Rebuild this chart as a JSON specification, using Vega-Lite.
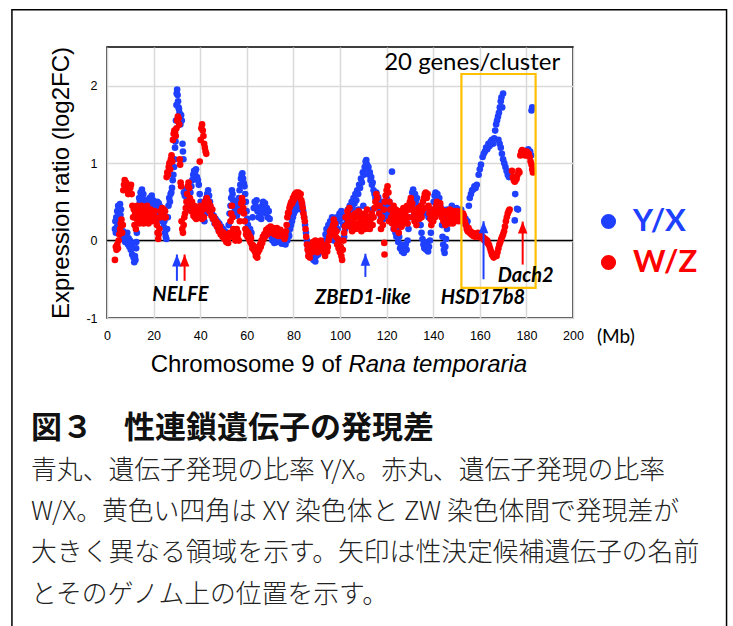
{
"$schema": "https://vega.github.io/schema/vega-lite/v6.json",
"autosize": "none",
"width": 466,
"height": 271,
"padding": {"left": 107, "top": 47, "right": 160, "bottom": 308},
"background": "white",
"config": {"view": {"stroke": "black", "strokeWidth": 1.5}},
"data": {"values": [{}]},
"resolve": {"axis": {"x": "independent", "y": "independent"}},
"datasets": {
"pts": [
{"s":"Y/X","x":3.4,"y":0.15},{"s":"Y/X","x":3.6,"y":0.25},{"s":"Y/X","x":3.8,"y":0.1},{"s":"Y/X","x":4.0,"y":0.3},{"s":"Y/X","x":4.2,"y":0.17},{"s":"Y/X","x":4.4,"y":0.38},{"s":"Y/X","x":4.6,"y":0.2},{"s":"Y/X","x":4.8,"y":0.45},{"s":"Y/X","x":5.0,"y":0.35},{"s":"Y/X","x":5.2,"y":0.42},{"s":"Y/X","x":5.4,"y":0.28},{"s":"Y/X","x":5.6,"y":0.47},{"s":"Y/X","x":5.8,"y":0.33},{"s":"Y/X","x":6.0,"y":0.4},
{"s":"Y/X","x":6.3,"y":0.1},{"s":"Y/X","x":6.6,"y":0.05},{"s":"Y/X","x":6.9,"y":0.12},{"s":"Y/X","x":7.2,"y":0.02},{"s":"Y/X","x":7.5,"y":0.08},{"s":"Y/X","x":7.8,"y":-0.02},{"s":"Y/X","x":8.1,"y":0.05},{"s":"Y/X","x":8.4,"y":0.0},{"s":"Y/X","x":8.7,"y":0.1},{"s":"Y/X","x":9.0,"y":-0.05},{"s":"Y/X","x":9.3,"y":0.03},{"s":"Y/X","x":9.6,"y":-0.08},{"s":"Y/X","x":9.9,"y":0.0},{"s":"Y/X","x":10.2,"y":-0.12},{"s":"Y/X","x":10.5,"y":-0.05},{"s":"Y/X","x":10.8,"y":-0.18},{"s":"Y/X","x":11.1,"y":-0.1},{"s":"Y/X","x":11.4,"y":-0.22},{"s":"Y/X","x":11.7,"y":-0.28},{"s":"Y/X","x":12.0,"y":-0.2},{"s":"Y/X","x":12.2,"y":-0.25},{"s":"Y/X","x":12.5,"y":-0.1},{"s":"Y/X","x":12.6,"y":-0.02},{"s":"Y/X","x":12.8,"y":0.1},
{"s":"Y/X","x":13.2,"y":0.3},{"s":"Y/X","x":13.5,"y":0.45},{"s":"Y/X","x":13.8,"y":0.55},{"s":"Y/X","x":14.1,"y":0.5},{"s":"Y/X","x":14.4,"y":0.62},{"s":"Y/X","x":14.7,"y":0.58},{"s":"Y/X","x":15.0,"y":0.66},{"s":"Y/X","x":15.3,"y":0.55},{"s":"Y/X","x":15.6,"y":0.6},{"s":"Y/X","x":15.9,"y":0.5},{"s":"Y/X","x":16.2,"y":0.45},
{"s":"Y/X","x":16.5,"y":0.38},{"s":"Y/X","x":16.8,"y":0.5},{"s":"Y/X","x":17.1,"y":0.42},{"s":"Y/X","x":17.4,"y":0.52},{"s":"Y/X","x":17.7,"y":0.38},{"s":"Y/X","x":18.0,"y":0.47},{"s":"Y/X","x":18.3,"y":0.55},{"s":"Y/X","x":18.6,"y":0.4},{"s":"Y/X","x":18.9,"y":0.5},{"s":"Y/X","x":19.2,"y":0.58},{"s":"Y/X","x":19.5,"y":0.45},{"s":"Y/X","x":19.8,"y":0.52},{"s":"Y/X","x":20.1,"y":0.4},{"s":"Y/X","x":20.4,"y":0.48},{"s":"Y/X","x":20.7,"y":0.36},{"s":"Y/X","x":21.0,"y":0.45},{"s":"Y/X","x":21.3,"y":0.38},{"s":"Y/X","x":21.6,"y":0.5},{"s":"Y/X","x":21.9,"y":0.42},{"s":"Y/X","x":22.2,"y":0.48},{"s":"Y/X","x":22.5,"y":0.36},{"s":"Y/X","x":22.8,"y":0.44},{"s":"Y/X","x":23.1,"y":0.3},{"s":"Y/X","x":23.4,"y":0.4},{"s":"Y/X","x":23.7,"y":0.25},{"s":"Y/X","x":24.0,"y":0.32},{"s":"Y/X","x":24.3,"y":0.18},{"s":"Y/X","x":24.6,"y":0.25},{"s":"Y/X","x":24.9,"y":0.1},{"s":"Y/X","x":25.2,"y":0.05},{"s":"Y/X","x":25.5,"y":0.02},{"s":"Y/X","x":25.8,"y":0.15},{"s":"Y/X","x":26.1,"y":0.3},
{"s":"Y/X","x":26.4,"y":0.45},{"s":"Y/X","x":26.7,"y":0.55},{"s":"Y/X","x":27.0,"y":0.5},{"s":"Y/X","x":27.3,"y":0.6},{"s":"Y/X","x":27.6,"y":0.62},{"s":"Y/X","x":27.9,"y":0.68},{"s":"Y/X","x":28.2,"y":0.78},{"s":"Y/X","x":28.5,"y":0.85},{"s":"Y/X","x":28.8,"y":0.95},{"s":"Y/X","x":29.0,"y":1.05},{"s":"Y/X","x":29.2,"y":1.2},{"s":"Y/X","x":29.4,"y":1.28},
{"s":"Y/X","x":29.6,"y":1.55},{"s":"Y/X","x":29.8,"y":1.75},{"s":"Y/X","x":29.9,"y":1.9},{"s":"Y/X","x":30.1,"y":1.95},{"s":"Y/X","x":30.3,"y":1.88},{"s":"Y/X","x":30.5,"y":1.8},{"s":"Y/X","x":30.7,"y":1.72},{"s":"Y/X","x":30.9,"y":1.7},{"s":"Y/X","x":31.1,"y":1.65},{"s":"Y/X","x":31.3,"y":1.58},{"s":"Y/X","x":31.5,"y":1.5},
{"s":"Y/X","x":31.8,"y":1.62},{"s":"Y/X","x":32.1,"y":1.55},{"s":"Y/X","x":32.4,"y":1.25},{"s":"Y/X","x":32.6,"y":1.15},{"s":"Y/X","x":32.8,"y":1.05},
{"s":"Y/X","x":33.0,"y":0.62},{"s":"Y/X","x":33.4,"y":0.58},{"s":"Y/X","x":33.8,"y":0.66},{"s":"Y/X","x":34.2,"y":0.55},
{"s":"Y/X","x":34.6,"y":0.45},{"s":"Y/X","x":35.0,"y":0.4},{"s":"Y/X","x":35.4,"y":0.5},{"s":"Y/X","x":35.8,"y":0.62},{"s":"Y/X","x":36.2,"y":0.7},{"s":"Y/X","x":36.6,"y":0.78},{"s":"Y/X","x":37.0,"y":0.85},{"s":"Y/X","x":37.4,"y":0.9},{"s":"Y/X","x":37.8,"y":0.88},{"s":"Y/X","x":38.2,"y":0.92},{"s":"Y/X","x":38.6,"y":0.82},{"s":"Y/X","x":39.0,"y":0.78},{"s":"Y/X","x":39.4,"y":0.72},{"s":"Y/X","x":39.8,"y":0.6},
{"s":"Y/X","x":40.2,"y":0.5},{"s":"Y/X","x":40.6,"y":0.42},{"s":"Y/X","x":41.0,"y":0.3},{"s":"Y/X","x":41.4,"y":0.38},{"s":"Y/X","x":41.8,"y":0.25},{"s":"Y/X","x":42.2,"y":0.35},{"s":"Y/X","x":42.6,"y":0.55},{"s":"Y/X","x":43.0,"y":0.6},{"s":"Y/X","x":43.4,"y":0.65},{"s":"Y/X","x":43.8,"y":0.58},{"s":"Y/X","x":44.2,"y":0.5},{"s":"Y/X","x":44.6,"y":0.42},
{"s":"Y/X","x":45.0,"y":0.35},{"s":"Y/X","x":45.4,"y":0.28},{"s":"Y/X","x":45.8,"y":0.32},{"s":"Y/X","x":46.2,"y":0.22},{"s":"Y/X","x":46.6,"y":0.28},{"s":"Y/X","x":47.0,"y":0.2},{"s":"Y/X","x":47.4,"y":0.25},{"s":"Y/X","x":47.8,"y":0.15},{"s":"Y/X","x":48.2,"y":0.22},{"s":"Y/X","x":48.6,"y":0.12},{"s":"Y/X","x":49.0,"y":0.18},{"s":"Y/X","x":49.4,"y":0.1},{"s":"Y/X","x":49.8,"y":0.15},{"s":"Y/X","x":50.2,"y":0.08},{"s":"Y/X","x":50.6,"y":0.12},{"s":"Y/X","x":51.0,"y":0.05},{"s":"Y/X","x":51.4,"y":0.1},{"s":"Y/X","x":51.8,"y":0.02},
{"s":"Y/X","x":52.2,"y":0.2},{"s":"Y/X","x":52.6,"y":0.35},{"s":"Y/X","x":53.0,"y":0.45},{"s":"Y/X","x":53.3,"y":0.55},{"s":"Y/X","x":53.6,"y":0.65},{"s":"Y/X","x":53.9,"y":0.6},{"s":"Y/X","x":54.2,"y":0.52},{"s":"Y/X","x":54.5,"y":0.45},{"s":"Y/X","x":54.8,"y":0.38},{"s":"Y/X","x":55.1,"y":0.5},{"s":"Y/X","x":55.4,"y":0.4},{"s":"Y/X","x":55.7,"y":0.32},
{"s":"Y/X","x":56.0,"y":0.35},{"s":"Y/X","x":56.3,"y":0.45},{"s":"Y/X","x":56.6,"y":0.55},{"s":"Y/X","x":56.9,"y":0.65},{"s":"Y/X","x":57.2,"y":0.72},{"s":"Y/X","x":57.5,"y":0.8},{"s":"Y/X","x":57.8,"y":0.85},{"s":"Y/X","x":58.1,"y":0.87},{"s":"Y/X","x":58.4,"y":0.8},{"s":"Y/X","x":58.7,"y":0.74},{"s":"Y/X","x":59.0,"y":0.7},{"s":"Y/X","x":59.3,"y":0.6},{"s":"Y/X","x":59.6,"y":0.5},
{"s":"Y/X","x":59.9,"y":0.38},{"s":"Y/X","x":60.2,"y":0.28},{"s":"Y/X","x":60.5,"y":0.2},{"s":"Y/X","x":60.8,"y":0.12},{"s":"Y/X","x":61.1,"y":0.08},{"s":"Y/X","x":61.4,"y":0.15},{"s":"Y/X","x":61.7,"y":0.05},{"s":"Y/X","x":62.0,"y":0.1},
{"s":"Y/X","x":62.5,"y":0.3},{"s":"Y/X","x":63.0,"y":0.42},{"s":"Y/X","x":63.4,"y":0.5},{"s":"Y/X","x":63.8,"y":0.45},{"s":"Y/X","x":64.2,"y":0.52},{"s":"Y/X","x":64.6,"y":0.38},{"s":"Y/X","x":65.0,"y":0.3},{"s":"Y/X","x":65.4,"y":0.42},{"s":"Y/X","x":65.8,"y":0.35},{"s":"Y/X","x":66.2,"y":0.28},{"s":"Y/X","x":66.6,"y":0.45},{"s":"Y/X","x":67.0,"y":0.5},{"s":"Y/X","x":67.4,"y":0.4},{"s":"Y/X","x":67.8,"y":0.48},{"s":"Y/X","x":68.2,"y":0.35},{"s":"Y/X","x":68.6,"y":0.42},{"s":"Y/X","x":69.0,"y":0.3},{"s":"Y/X","x":69.4,"y":0.38},{"s":"Y/X","x":69.8,"y":0.28},
{"s":"Y/X","x":70.2,"y":0.12},{"s":"Y/X","x":70.6,"y":0.05},{"s":"Y/X","x":71.0,"y":0.0},{"s":"Y/X","x":71.4,"y":0.06},{"s":"Y/X","x":71.8,"y":-0.03},{"s":"Y/X","x":72.2,"y":0.04},{"s":"Y/X","x":72.6,"y":0.08},{"s":"Y/X","x":73.0,"y":-0.02},{"s":"Y/X","x":73.4,"y":0.03},{"s":"Y/X","x":73.8,"y":0.1},{"s":"Y/X","x":74.2,"y":0.0},{"s":"Y/X","x":74.6,"y":0.05},{"s":"Y/X","x":75.0,"y":-0.04},{"s":"Y/X","x":75.4,"y":0.02},{"s":"Y/X","x":75.8,"y":0.08},{"s":"Y/X","x":76.2,"y":0.0},{"s":"Y/X","x":76.6,"y":-0.05},{"s":"Y/X","x":77.0,"y":0.05},{"s":"Y/X","x":77.4,"y":0.0},{"s":"Y/X","x":77.8,"y":0.1},{"s":"Y/X","x":78.2,"y":0.06},
{"s":"Y/X","x":78.6,"y":0.15},{"s":"Y/X","x":79.0,"y":0.2},{"s":"Y/X","x":79.4,"y":0.25},{"s":"Y/X","x":79.8,"y":0.3},{"s":"Y/X","x":80.2,"y":0.35},{"s":"Y/X","x":80.6,"y":0.38},{"s":"Y/X","x":81.0,"y":0.42},{"s":"Y/X","x":81.4,"y":0.4},{"s":"Y/X","x":81.8,"y":0.45},{"s":"Y/X","x":82.2,"y":0.5},{"s":"Y/X","x":82.6,"y":0.45},{"s":"Y/X","x":83.0,"y":0.48},{"s":"Y/X","x":83.4,"y":0.4},{"s":"Y/X","x":83.8,"y":0.45},{"s":"Y/X","x":84.2,"y":0.38},{"s":"Y/X","x":84.6,"y":0.3},
{"s":"Y/X","x":85.0,"y":0.2},{"s":"Y/X","x":85.4,"y":0.1},{"s":"Y/X","x":85.8,"y":0.0},{"s":"Y/X","x":86.2,"y":-0.08},{"s":"Y/X","x":86.6,"y":-0.15},{"s":"Y/X","x":87.0,"y":-0.2},{"s":"Y/X","x":87.4,"y":-0.1},{"s":"Y/X","x":87.8,"y":-0.22},{"s":"Y/X","x":88.2,"y":-0.15},{"s":"Y/X","x":88.6,"y":-0.25},{"s":"Y/X","x":89.0,"y":-0.18},{"s":"Y/X","x":89.4,"y":-0.27},{"s":"Y/X","x":89.8,"y":-0.2},{"s":"Y/X","x":90.2,"y":-0.12},{"s":"Y/X","x":90.6,"y":-0.18},{"s":"Y/X","x":91.0,"y":-0.08},{"s":"Y/X","x":91.4,"y":-0.15},{"s":"Y/X","x":91.8,"y":-0.05},{"s":"Y/X","x":92.2,"y":-0.12},{"s":"Y/X","x":92.6,"y":-0.02},{"s":"Y/X","x":93.0,"y":-0.1},{"s":"Y/X","x":93.4,"y":0.0},
{"s":"Y/X","x":93.8,"y":0.08},{"s":"Y/X","x":94.2,"y":0.15},{"s":"Y/X","x":94.6,"y":0.05},{"s":"Y/X","x":95.0,"y":0.2},{"s":"Y/X","x":95.4,"y":0.1},{"s":"Y/X","x":95.8,"y":0.25},{"s":"Y/X","x":96.2,"y":0.12},{"s":"Y/X","x":96.6,"y":0.3},{"s":"Y/X","x":97.0,"y":0.18},{"s":"Y/X","x":97.4,"y":0.0},{"s":"Y/X","x":97.8,"y":0.1},{"s":"Y/X","x":98.2,"y":0.2},{"s":"Y/X","x":98.6,"y":0.3},{"s":"Y/X","x":99.0,"y":0.15},{"s":"Y/X","x":99.4,"y":0.25},{"s":"Y/X","x":99.8,"y":0.35},{"s":"Y/X","x":100.2,"y":0.28},{"s":"Y/X","x":100.6,"y":0.38},{"s":"Y/X","x":101.0,"y":0.3},{"s":"Y/X","x":101.4,"y":0.2},{"s":"Y/X","x":101.8,"y":0.05},{"s":"Y/X","x":102.2,"y":0.15},{"s":"Y/X","x":102.6,"y":0.32},{"s":"Y/X","x":103.0,"y":0.25},{"s":"Y/X","x":103.4,"y":0.4},{"s":"Y/X","x":103.8,"y":0.3},{"s":"Y/X","x":104.2,"y":0.45},{"s":"Y/X","x":104.6,"y":0.35},
{"s":"Y/X","x":105.0,"y":0.5},{"s":"Y/X","x":105.4,"y":0.42},{"s":"Y/X","x":105.8,"y":0.55},{"s":"Y/X","x":106.2,"y":0.48},{"s":"Y/X","x":106.6,"y":0.6},{"s":"Y/X","x":107.0,"y":0.52},{"s":"Y/X","x":107.4,"y":0.65},{"s":"Y/X","x":107.8,"y":0.6},{"s":"Y/X","x":108.2,"y":0.72},{"s":"Y/X","x":108.6,"y":0.68},{"s":"Y/X","x":109.0,"y":0.8},{"s":"Y/X","x":109.4,"y":0.75},{"s":"Y/X","x":109.8,"y":0.88},{"s":"Y/X","x":110.2,"y":0.85},{"s":"Y/X","x":110.6,"y":0.95},{"s":"Y/X","x":111.0,"y":1.02},{"s":"Y/X","x":111.3,"y":1.04},{"s":"Y/X","x":111.6,"y":0.98},{"s":"Y/X","x":111.9,"y":0.92},{"s":"Y/X","x":112.2,"y":0.95},{"s":"Y/X","x":112.5,"y":0.85},{"s":"Y/X","x":112.8,"y":0.88},{"s":"Y/X","x":113.1,"y":0.78},{"s":"Y/X","x":113.4,"y":0.82},{"s":"Y/X","x":113.7,"y":0.72},{"s":"Y/X","x":114.0,"y":0.75},{"s":"Y/X","x":114.4,"y":0.65},{"s":"Y/X","x":114.8,"y":0.6},{"s":"Y/X","x":115.2,"y":0.55},{"s":"Y/X","x":115.6,"y":0.62},{"s":"Y/X","x":116.0,"y":0.5},{"s":"Y/X","x":116.4,"y":0.56},{"s":"Y/X","x":116.8,"y":0.45},
{"s":"Y/X","x":117.2,"y":0.38},{"s":"Y/X","x":117.6,"y":0.3},{"s":"Y/X","x":118.0,"y":0.42},{"s":"Y/X","x":118.4,"y":0.35},{"s":"Y/X","x":118.8,"y":0.28},{"s":"Y/X","x":119.2,"y":0.4},{"s":"Y/X","x":119.6,"y":0.48},{"s":"Y/X","x":120.0,"y":0.35},{"s":"Y/X","x":120.4,"y":0.3},{"s":"Y/X","x":120.8,"y":0.45},{"s":"Y/X","x":121.2,"y":0.5},{"s":"Y/X","x":121.6,"y":0.42},{"s":"Y/X","x":122.0,"y":0.35},{"s":"Y/X","x":122.3,"y":0.89},
{"s":"Y/X","x":122.6,"y":0.25},{"s":"Y/X","x":123.0,"y":0.15},{"s":"Y/X","x":123.4,"y":0.22},{"s":"Y/X","x":123.8,"y":0.1},{"s":"Y/X","x":124.2,"y":0.05},{"s":"Y/X","x":124.6,"y":0.15},{"s":"Y/X","x":125.0,"y":-0.02},{"s":"Y/X","x":125.4,"y":0.05},{"s":"Y/X","x":125.8,"y":-0.1},{"s":"Y/X","x":126.2,"y":-0.05},{"s":"Y/X","x":126.6,"y":-0.14},{"s":"Y/X","x":127.0,"y":-0.08},{"s":"Y/X","x":127.4,"y":-0.16},{"s":"Y/X","x":127.8,"y":-0.1},{"s":"Y/X","x":128.2,"y":-0.05},{"s":"Y/X","x":128.6,"y":-0.12},{"s":"Y/X","x":129.0,"y":0.0},
{"s":"Y/X","x":129.4,"y":0.15},{"s":"Y/X","x":129.8,"y":0.3},{"s":"Y/X","x":130.2,"y":0.45},{"s":"Y/X","x":130.6,"y":0.55},{"s":"Y/X","x":131.0,"y":0.62},{"s":"Y/X","x":131.4,"y":0.66},{"s":"Y/X","x":131.8,"y":0.58},{"s":"Y/X","x":132.2,"y":0.6},{"s":"Y/X","x":132.6,"y":0.52},{"s":"Y/X","x":133.0,"y":0.55},{"s":"Y/X","x":133.4,"y":0.45},{"s":"Y/X","x":133.8,"y":0.38},{"s":"Y/X","x":134.2,"y":0.3},{"s":"Y/X","x":134.6,"y":0.2},
{"s":"Y/X","x":135.0,"y":0.1},{"s":"Y/X","x":135.4,"y":0.02},{"s":"Y/X","x":135.8,"y":-0.05},{"s":"Y/X","x":136.2,"y":-0.1},{"s":"Y/X","x":136.6,"y":-0.02},{"s":"Y/X","x":137.0,"y":-0.12},{"s":"Y/X","x":137.4,"y":-0.06},{"s":"Y/X","x":137.8,"y":-0.14},{"s":"Y/X","x":138.2,"y":-0.08},{"s":"Y/X","x":138.6,"y":0.0},{"s":"Y/X","x":139.0,"y":0.1},
{"s":"Y/X","x":139.4,"y":0.25},{"s":"Y/X","x":139.8,"y":0.4},{"s":"Y/X","x":140.2,"y":0.5},{"s":"Y/X","x":140.6,"y":0.58},{"s":"Y/X","x":141.0,"y":0.62},{"s":"Y/X","x":141.4,"y":0.55},{"s":"Y/X","x":141.8,"y":0.6},{"s":"Y/X","x":142.2,"y":0.5},{"s":"Y/X","x":142.6,"y":0.55},{"s":"Y/X","x":143.0,"y":0.45},{"s":"Y/X","x":143.4,"y":0.4},
{"s":"Y/X","x":143.8,"y":0.2},{"s":"Y/X","x":144.0,"y":0.05},{"s":"Y/X","x":144.3,"y":-0.05},{"s":"Y/X","x":144.6,"y":-0.12},{"s":"Y/X","x":144.9,"y":-0.16},{"s":"Y/X","x":145.2,"y":-0.08},{"s":"Y/X","x":145.5,"y":0.02},
{"s":"Y/X","x":145.9,"y":0.15},{"s":"Y/X","x":146.3,"y":0.25},{"s":"Y/X","x":146.7,"y":0.32},{"s":"Y/X","x":147.1,"y":0.28},{"s":"Y/X","x":147.5,"y":0.35},{"s":"Y/X","x":147.9,"y":0.3},{"s":"Y/X","x":148.3,"y":0.38},{"s":"Y/X","x":148.7,"y":0.32},{"s":"Y/X","x":149.1,"y":0.4},{"s":"Y/X","x":149.5,"y":0.35},{"s":"Y/X","x":149.9,"y":0.3},{"s":"Y/X","x":150.3,"y":0.38},{"s":"Y/X","x":150.7,"y":0.33},{"s":"Y/X","x":151.1,"y":0.28},{"s":"Y/X","x":151.5,"y":0.36},{"s":"Y/X","x":151.9,"y":0.3},{"s":"Y/X","x":152.3,"y":0.25},{"s":"Y/X","x":152.7,"y":0.35},{"s":"Y/X","x":153.1,"y":0.3},{"s":"Y/X","x":153.5,"y":0.22},{"s":"Y/X","x":153.9,"y":0.28},{"s":"Y/X","x":154.3,"y":0.2},{"s":"Y/X","x":154.7,"y":0.25},
{"s":"Y/X","x":155.3,"y":0.45},{"s":"Y/X","x":155.7,"y":0.55},{"s":"Y/X","x":156.2,"y":0.6},{"s":"Y/X","x":156.7,"y":0.65},{"s":"Y/X","x":157.2,"y":0.66},{"s":"Y/X","x":157.7,"y":0.7},{"s":"Y/X","x":158.2,"y":0.68},{"s":"Y/X","x":158.7,"y":0.72},{"s":"Y/X","x":159.5,"y":0.85},{"s":"Y/X","x":160.0,"y":0.92},{"s":"Y/X","x":160.5,"y":0.98},{"s":"Y/X","x":161.2,"y":1.08},{"s":"Y/X","x":161.7,"y":1.12},{"s":"Y/X","x":162.2,"y":1.15},{"s":"Y/X","x":162.7,"y":1.2},{"s":"Y/X","x":163.2,"y":1.18},{"s":"Y/X","x":163.7,"y":1.25},{"s":"Y/X","x":164.2,"y":1.22},{"s":"Y/X","x":164.7,"y":1.28},{"s":"Y/X","x":165.2,"y":1.3},{"s":"Y/X","x":165.7,"y":1.25},{"s":"Y/X","x":166.2,"y":1.32},{"s":"Y/X","x":166.6,"y":1.42},{"s":"Y/X","x":167.0,"y":1.5},{"s":"Y/X","x":167.4,"y":1.55},{"s":"Y/X","x":167.8,"y":1.6},{"s":"Y/X","x":168.2,"y":1.65},{"s":"Y/X","x":168.6,"y":1.72},{"s":"Y/X","x":169.0,"y":1.8},{"s":"Y/X","x":169.3,"y":1.85},{"s":"Y/X","x":169.6,"y":1.72},{"s":"Y/X","x":170.0,"y":1.9},
{"s":"Y/X","x":168.0,"y":1.3},{"s":"Y/X","x":168.5,"y":1.25},{"s":"Y/X","x":169.0,"y":1.2},{"s":"Y/X","x":169.5,"y":1.12},{"s":"Y/X","x":170.0,"y":1.05},{"s":"Y/X","x":170.5,"y":1.0},{"s":"Y/X","x":171.0,"y":0.95},{"s":"Y/X","x":171.5,"y":0.9},{"s":"Y/X","x":172.0,"y":0.85},{"s":"Y/X","x":172.5,"y":0.82},
{"s":"Y/X","x":175.2,"y":0.6},{"s":"Y/X","x":176.0,"y":0.41},{"s":"Y/X","x":176.4,"y":0.4},{"s":"Y/X","x":175.0,"y":0.26},
{"s":"Y/X","x":180.8,"y":1.18},{"s":"Y/X","x":181.2,"y":1.12},{"s":"Y/X","x":181.6,"y":1.15},{"s":"Y/X","x":182.0,"y":1.1},{"s":"Y/X","x":182.2,"y":1.68},{"s":"Y/X","x":182.5,"y":1.72},
{"s":"Y/X","x":106,"y":0.3},{"s":"Y/X","x":108,"y":0.4},{"s":"Y/X","x":110,"y":0.45},{"s":"Y/X","x":114,"y":0.4},{"s":"Y/X","x":118,"y":0.5},{"s":"Y/X","x":120,"y":0.55},{"s":"Y/X","x":124,"y":0.35},{"s":"Y/X","x":126,"y":0.3},{"s":"Y/X","x":128,"y":0.4},{"s":"Y/X","x":132,"y":0.35},{"s":"Y/X","x":134,"y":0.45},{"s":"Y/X","x":136,"y":0.35},{"s":"Y/X","x":138,"y":0.3},{"s":"Y/X","x":140,"y":0.3},{"s":"Y/X","x":142,"y":0.35},{"s":"Y/X","x":144,"y":0.4},{"s":"Y/X","x":146,"y":0.4},{"s":"Y/X","x":148,"y":0.45},{"s":"Y/X","x":150,"y":0.42},{"s":"Y/X","x":152,"y":0.4},
{"s":"W/Z","x":3.4,"y":-0.25},{"s":"W/Z","x":3.8,"y":-0.08},{"s":"W/Z","x":4.1,"y":-0.12},{"s":"W/Z","x":4.4,"y":-0.05},{"s":"W/Z","x":4.7,"y":-0.1},{"s":"W/Z","x":5.0,"y":0.0},{"s":"W/Z","x":5.3,"y":0.08},{"s":"W/Z","x":5.6,"y":0.15},{"s":"W/Z","x":5.9,"y":0.22},{"s":"W/Z","x":6.2,"y":0.27},{"s":"W/Z","x":6.5,"y":0.1},{"s":"W/Z","x":6.8,"y":0.2},
{"s":"W/Z","x":7.0,"y":0.65},{"s":"W/Z","x":7.3,"y":0.72},{"s":"W/Z","x":7.6,"y":0.78},{"s":"W/Z","x":7.9,"y":0.7},{"s":"W/Z","x":8.2,"y":0.75},{"s":"W/Z","x":8.5,"y":0.65},{"s":"W/Z","x":8.8,"y":0.72},{"s":"W/Z","x":9.1,"y":0.6},{"s":"W/Z","x":9.4,"y":0.7},{"s":"W/Z","x":9.7,"y":0.62},{"s":"W/Z","x":10.0,"y":0.68},{"s":"W/Z","x":10.3,"y":0.72},{"s":"W/Z","x":10.6,"y":0.6},
{"s":"W/Z","x":10.9,"y":0.45},{"s":"W/Z","x":11.2,"y":0.3},{"s":"W/Z","x":11.5,"y":0.4},{"s":"W/Z","x":11.8,"y":0.2},{"s":"W/Z","x":12.1,"y":0.35},{"s":"W/Z","x":12.4,"y":0.15},{"s":"W/Z","x":12.7,"y":0.28},{"s":"W/Z","x":13.0,"y":0.45},{"s":"W/Z","x":13.3,"y":0.3},{"s":"W/Z","x":13.6,"y":0.4},{"s":"W/Z","x":13.9,"y":0.22},{"s":"W/Z","x":14.2,"y":0.35},{"s":"W/Z","x":14.5,"y":0.25},{"s":"W/Z","x":14.8,"y":0.45},{"s":"W/Z","x":15.1,"y":0.3},{"s":"W/Z","x":15.4,"y":0.38},{"s":"W/Z","x":15.7,"y":0.22},{"s":"W/Z","x":16.0,"y":0.3},{"s":"W/Z","x":16.3,"y":0.4},{"s":"W/Z","x":16.6,"y":0.25},{"s":"W/Z","x":16.9,"y":0.33},{"s":"W/Z","x":17.2,"y":0.45},{"s":"W/Z","x":17.5,"y":0.3},{"s":"W/Z","x":17.8,"y":0.22},{"s":"W/Z","x":18.1,"y":0.35},{"s":"W/Z","x":18.4,"y":0.28},{"s":"W/Z","x":18.7,"y":0.4},{"s":"W/Z","x":19.0,"y":0.3},{"s":"W/Z","x":19.3,"y":0.25},{"s":"W/Z","x":19.6,"y":0.35},{"s":"W/Z","x":19.9,"y":0.3},{"s":"W/Z","x":20.2,"y":0.28},{"s":"W/Z","x":20.5,"y":0.38},{"s":"W/Z","x":20.8,"y":0.3},{"s":"W/Z","x":21.1,"y":0.25},{"s":"W/Z","x":21.4,"y":0.2},{"s":"W/Z","x":21.7,"y":0.1},{"s":"W/Z","x":22.0,"y":0.02},{"s":"W/Z","x":22.2,"y":0.08},{"s":"W/Z","x":22.5,"y":0.15},{"s":"W/Z","x":22.8,"y":0.3},{"s":"W/Z","x":23.1,"y":0.38},{"s":"W/Z","x":23.4,"y":0.32},{"s":"W/Z","x":23.7,"y":0.42},{"s":"W/Z","x":24.0,"y":0.35},{"s":"W/Z","x":24.3,"y":0.4},{"s":"W/Z","x":24.6,"y":0.3},{"s":"W/Z","x":24.9,"y":0.38},{"s":"W/Z","x":25.2,"y":0.3},
{"s":"W/Z","x":25.6,"y":0.82},{"s":"W/Z","x":25.9,"y":0.88},{"s":"W/Z","x":26.2,"y":0.85},{"s":"W/Z","x":26.5,"y":0.95},{"s":"W/Z","x":26.8,"y":1.0},{"s":"W/Z","x":27.1,"y":0.92},{"s":"W/Z","x":27.4,"y":1.05},{"s":"W/Z","x":27.7,"y":1.1},{"s":"W/Z","x":28.0,"y":1.02},
{"s":"W/Z","x":28.3,"y":1.3},{"s":"W/Z","x":28.6,"y":1.38},{"s":"W/Z","x":28.9,"y":1.42},{"s":"W/Z","x":29.2,"y":1.4},{"s":"W/Z","x":29.5,"y":1.35},{"s":"W/Z","x":29.8,"y":1.45},{"s":"W/Z","x":30.1,"y":1.55},{"s":"W/Z","x":30.4,"y":1.6},{"s":"W/Z","x":30.7,"y":1.58},{"s":"W/Z","x":31.0,"y":1.5},
{"s":"W/Z","x":31.2,"y":1.05},{"s":"W/Z","x":31.4,"y":0.98},{"s":"W/Z","x":31.6,"y":0.75},{"s":"W/Z","x":31.8,"y":0.7},
{"s":"W/Z","x":32.0,"y":0.25},{"s":"W/Z","x":32.3,"y":0.15},{"s":"W/Z","x":32.6,"y":0.1},{"s":"W/Z","x":32.9,"y":0.2},{"s":"W/Z","x":33.2,"y":0.3},
{"s":"W/Z","x":33.5,"y":0.35},{"s":"W/Z","x":33.8,"y":0.42},{"s":"W/Z","x":34.1,"y":0.5},{"s":"W/Z","x":34.4,"y":0.6},{"s":"W/Z","x":34.7,"y":0.7},{"s":"W/Z","x":35.0,"y":0.75},{"s":"W/Z","x":35.3,"y":0.68},{"s":"W/Z","x":35.6,"y":0.55},{"s":"W/Z","x":35.9,"y":0.45},{"s":"W/Z","x":36.2,"y":0.38},{"s":"W/Z","x":36.5,"y":0.5},{"s":"W/Z","x":36.8,"y":0.4},{"s":"W/Z","x":37.1,"y":0.32},{"s":"W/Z","x":37.4,"y":0.45},{"s":"W/Z","x":37.7,"y":0.3},{"s":"W/Z","x":38.0,"y":0.38},{"s":"W/Z","x":38.3,"y":0.28},{"s":"W/Z","x":38.6,"y":0.35},{"s":"W/Z","x":38.9,"y":0.3},{"s":"W/Z","x":39.2,"y":0.4},
{"s":"W/Z","x":39.8,"y":1.02},{"s":"W/Z","x":40.2,"y":1.3},{"s":"W/Z","x":40.5,"y":1.45},{"s":"W/Z","x":40.8,"y":1.5},{"s":"W/Z","x":41.1,"y":1.42},{"s":"W/Z","x":41.4,"y":1.35},{"s":"W/Z","x":41.7,"y":1.25},{"s":"W/Z","x":42.0,"y":1.2},{"s":"W/Z","x":42.3,"y":1.15},{"s":"W/Z","x":42.6,"y":1.12},
{"s":"W/Z","x":40.0,"y":0.45},{"s":"W/Z","x":40.4,"y":0.35},{"s":"W/Z","x":40.8,"y":0.28},{"s":"W/Z","x":41.2,"y":0.4},{"s":"W/Z","x":41.6,"y":0.3},{"s":"W/Z","x":42.0,"y":0.5},{"s":"W/Z","x":42.4,"y":0.45},{"s":"W/Z","x":42.8,"y":0.55},{"s":"W/Z","x":43.2,"y":0.42},{"s":"W/Z","x":43.6,"y":0.5},{"s":"W/Z","x":44.0,"y":0.38},{"s":"W/Z","x":44.4,"y":0.45},{"s":"W/Z","x":44.8,"y":0.32},{"s":"W/Z","x":45.2,"y":0.4},{"s":"W/Z","x":45.6,"y":0.28},
{"s":"W/Z","x":46.0,"y":0.3},{"s":"W/Z","x":46.4,"y":0.22},{"s":"W/Z","x":46.8,"y":0.25},{"s":"W/Z","x":47.2,"y":0.18},{"s":"W/Z","x":47.6,"y":0.22},{"s":"W/Z","x":48.0,"y":0.12},{"s":"W/Z","x":48.4,"y":0.18},{"s":"W/Z","x":48.8,"y":0.08},{"s":"W/Z","x":49.2,"y":0.12},{"s":"W/Z","x":49.6,"y":0.05},{"s":"W/Z","x":50.0,"y":0.1},{"s":"W/Z","x":50.4,"y":0.02},{"s":"W/Z","x":50.8,"y":0.08},{"s":"W/Z","x":51.2,"y":-0.02},{"s":"W/Z","x":51.6,"y":0.05},{"s":"W/Z","x":52.0,"y":-0.03},{"s":"W/Z","x":52.4,"y":0.04},{"s":"W/Z","x":52.8,"y":0.1},{"s":"W/Z","x":53.0,"y":0.25},{"s":"W/Z","x":53.3,"y":0.35},{"s":"W/Z","x":53.6,"y":0.45},{"s":"W/Z","x":53.9,"y":0.3},{"s":"W/Z","x":54.2,"y":0.15},{"s":"W/Z","x":54.5,"y":0.05},{"s":"W/Z","x":54.8,"y":0.12},{"s":"W/Z","x":55.1,"y":0.0},{"s":"W/Z","x":55.4,"y":0.08},{"s":"W/Z","x":55.7,"y":0.15},{"s":"W/Z","x":56.0,"y":0.05},{"s":"W/Z","x":56.3,"y":0.1},{"s":"W/Z","x":56.6,"y":0.0},
{"s":"W/Z","x":57.0,"y":0.25},{"s":"W/Z","x":57.3,"y":0.38},{"s":"W/Z","x":57.6,"y":0.48},{"s":"W/Z","x":57.9,"y":0.55},{"s":"W/Z","x":58.2,"y":0.5},{"s":"W/Z","x":58.5,"y":0.42},{"s":"W/Z","x":58.8,"y":0.35},{"s":"W/Z","x":59.1,"y":0.25},{"s":"W/Z","x":59.4,"y":0.15},
{"s":"W/Z","x":59.7,"y":0.08},{"s":"W/Z","x":60.0,"y":0.12},{"s":"W/Z","x":60.3,"y":0.05},{"s":"W/Z","x":60.6,"y":0.1},{"s":"W/Z","x":60.9,"y":0.02},{"s":"W/Z","x":61.2,"y":0.06},{"s":"W/Z","x":61.5,"y":-0.02},{"s":"W/Z","x":61.8,"y":0.03},{"s":"W/Z","x":62.1,"y":-0.05},{"s":"W/Z","x":62.4,"y":-0.1},{"s":"W/Z","x":62.7,"y":-0.06},{"s":"W/Z","x":63.0,"y":-0.12},{"s":"W/Z","x":63.3,"y":-0.08},{"s":"W/Z","x":63.6,"y":-0.15},{"s":"W/Z","x":63.9,"y":-0.2},{"s":"W/Z","x":64.2,"y":-0.18},{"s":"W/Z","x":64.5,"y":-0.22},{"s":"W/Z","x":64.8,"y":-0.15},{"s":"W/Z","x":65.1,"y":-0.1},{"s":"W/Z","x":65.4,"y":-0.12},{"s":"W/Z","x":65.7,"y":-0.05},{"s":"W/Z","x":66.0,"y":-0.08},{"s":"W/Z","x":66.3,"y":0.0},{"s":"W/Z","x":66.6,"y":-0.03},{"s":"W/Z","x":66.9,"y":0.05},{"s":"W/Z","x":67.2,"y":0.02},{"s":"W/Z","x":67.5,"y":0.08},{"s":"W/Z","x":67.8,"y":0.05},
{"s":"W/Z","x":68.1,"y":0.1},{"s":"W/Z","x":68.4,"y":0.14},{"s":"W/Z","x":68.7,"y":0.08},{"s":"W/Z","x":69.0,"y":0.12},{"s":"W/Z","x":69.3,"y":0.16},{"s":"W/Z","x":69.6,"y":0.1},{"s":"W/Z","x":69.9,"y":0.14},{"s":"W/Z","x":70.2,"y":0.18},{"s":"W/Z","x":70.5,"y":0.12},{"s":"W/Z","x":70.8,"y":0.15},{"s":"W/Z","x":71.1,"y":0.1},{"s":"W/Z","x":71.4,"y":0.16},{"s":"W/Z","x":71.7,"y":0.12},{"s":"W/Z","x":72.0,"y":0.08},{"s":"W/Z","x":72.3,"y":0.14},{"s":"W/Z","x":72.6,"y":0.1},{"s":"W/Z","x":72.9,"y":0.16},{"s":"W/Z","x":73.2,"y":0.12},{"s":"W/Z","x":73.5,"y":0.06},{"s":"W/Z","x":73.8,"y":0.12},{"s":"W/Z","x":74.1,"y":0.08},{"s":"W/Z","x":74.4,"y":0.14},{"s":"W/Z","x":74.7,"y":0.1},{"s":"W/Z","x":75.0,"y":0.06},{"s":"W/Z","x":75.3,"y":0.1},{"s":"W/Z","x":75.6,"y":0.05},{"s":"W/Z","x":75.9,"y":0.08},{"s":"W/Z","x":76.2,"y":0.02},{"s":"W/Z","x":76.5,"y":0.06},
{"s":"W/Z","x":76.8,"y":0.12},{"s":"W/Z","x":77.1,"y":0.2},{"s":"W/Z","x":77.4,"y":0.3},{"s":"W/Z","x":77.7,"y":0.36},{"s":"W/Z","x":78.0,"y":0.36},{"s":"W/Z","x":78.3,"y":0.42},{"s":"W/Z","x":78.6,"y":0.45},{"s":"W/Z","x":78.9,"y":0.48},{"s":"W/Z","x":79.2,"y":0.5},{"s":"W/Z","x":79.5,"y":0.48},{"s":"W/Z","x":79.8,"y":0.55},{"s":"W/Z","x":80.1,"y":0.52},{"s":"W/Z","x":80.4,"y":0.58},{"s":"W/Z","x":80.7,"y":0.6},{"s":"W/Z","x":81.0,"y":0.58},{"s":"W/Z","x":81.3,"y":0.62},{"s":"W/Z","x":81.6,"y":0.6},{"s":"W/Z","x":81.9,"y":0.58},{"s":"W/Z","x":82.2,"y":0.62},{"s":"W/Z","x":82.5,"y":0.6},{"s":"W/Z","x":82.8,"y":0.55},{"s":"W/Z","x":83.1,"y":0.6},{"s":"W/Z","x":83.4,"y":0.52},{"s":"W/Z","x":83.7,"y":0.48},{"s":"W/Z","x":84.0,"y":0.42},{"s":"W/Z","x":84.3,"y":0.35},{"s":"W/Z","x":84.6,"y":0.3},{"s":"W/Z","x":84.9,"y":0.25},{"s":"W/Z","x":85.2,"y":0.15},{"s":"W/Z","x":85.5,"y":0.05},{"s":"W/Z","x":85.8,"y":-0.05},{"s":"W/Z","x":86.1,"y":-0.12},{"s":"W/Z","x":86.4,"y":-0.2},{"s":"W/Z","x":86.7,"y":-0.15},{"s":"W/Z","x":87.0,"y":-0.22},{"s":"W/Z","x":87.3,"y":-0.1},{"s":"W/Z","x":87.6,"y":-0.05},{"s":"W/Z","x":87.9,"y":-0.15},
{"s":"W/Z","x":88.2,"y":-0.08},{"s":"W/Z","x":88.5,"y":-0.02},{"s":"W/Z","x":88.8,"y":-0.12},{"s":"W/Z","x":89.1,"y":-0.05},{"s":"W/Z","x":89.4,"y":0.0},{"s":"W/Z","x":89.7,"y":-0.1},{"s":"W/Z","x":90.0,"y":-0.04},{"s":"W/Z","x":90.3,"y":-0.15},{"s":"W/Z","x":90.6,"y":-0.08},{"s":"W/Z","x":90.9,"y":-0.02},{"s":"W/Z","x":91.2,"y":-0.1},{"s":"W/Z","x":91.5,"y":-0.05},{"s":"W/Z","x":91.8,"y":0.0},{"s":"W/Z","x":92.1,"y":-0.08},{"s":"W/Z","x":92.4,"y":-0.12},{"s":"W/Z","x":92.7,"y":-0.05},{"s":"W/Z","x":93.0,"y":-0.15},{"s":"W/Z","x":93.3,"y":-0.1},{"s":"W/Z","x":93.6,"y":-0.2},{"s":"W/Z","x":93.9,"y":-0.12},{"s":"W/Z","x":94.2,"y":-0.06},{"s":"W/Z","x":94.5,"y":-0.14},{"s":"W/Z","x":94.8,"y":-0.08},{"s":"W/Z","x":95.1,"y":0.0},{"s":"W/Z","x":95.4,"y":0.05},{"s":"W/Z","x":95.7,"y":0.12},{"s":"W/Z","x":96.0,"y":0.08},{"s":"W/Z","x":96.3,"y":0.15},{"s":"W/Z","x":96.6,"y":0.1},
{"s":"W/Z","x":97.0,"y":0.2},{"s":"W/Z","x":97.3,"y":0.27},{"s":"W/Z","x":97.6,"y":0.15},{"s":"W/Z","x":97.9,"y":0.22},{"s":"W/Z","x":98.2,"y":0.05},{"s":"W/Z","x":98.5,"y":0.12},{"s":"W/Z","x":98.8,"y":-0.05},{"s":"W/Z","x":99.1,"y":0.02},{"s":"W/Z","x":99.4,"y":-0.1},{"s":"W/Z","x":99.7,"y":-0.02},{"s":"W/Z","x":100.0,"y":-0.15},{"s":"W/Z","x":100.3,"y":-0.08},{"s":"W/Z","x":100.6,"y":-0.2},{"s":"W/Z","x":100.9,"y":-0.25},{"s":"W/Z","x":101.2,"y":-0.12},{"s":"W/Z","x":101.5,"y":0.0},{"s":"W/Z","x":101.8,"y":0.1},{"s":"W/Z","x":102.1,"y":0.18},
{"s":"W/Z","x":102.4,"y":0.3},{"s":"W/Z","x":102.8,"y":0.2},{"s":"W/Z","x":103.2,"y":0.38},{"s":"W/Z","x":103.6,"y":0.25},{"s":"W/Z","x":104.0,"y":0.42},{"s":"W/Z","x":104.4,"y":0.18},{"s":"W/Z","x":104.8,"y":0.32},{"s":"W/Z","x":105.2,"y":0.12},{"s":"W/Z","x":105.6,"y":0.28},{"s":"W/Z","x":106.0,"y":0.2},{"s":"W/Z","x":106.4,"y":0.35},{"s":"W/Z","x":106.8,"y":0.15},{"s":"W/Z","x":107.2,"y":0.3},{"s":"W/Z","x":107.6,"y":0.22},{"s":"W/Z","x":108.0,"y":0.38},{"s":"W/Z","x":108.4,"y":0.18},{"s":"W/Z","x":108.8,"y":0.28},{"s":"W/Z","x":109.2,"y":0.12},{"s":"W/Z","x":109.6,"y":0.25},{"s":"W/Z","x":110.0,"y":0.32},{"s":"W/Z","x":110.4,"y":0.2},{"s":"W/Z","x":110.8,"y":0.35},{"s":"W/Z","x":111.2,"y":0.25},{"s":"W/Z","x":111.6,"y":0.4},{"s":"W/Z","x":112.0,"y":0.22},{"s":"W/Z","x":112.4,"y":0.3},{"s":"W/Z","x":112.8,"y":0.15},{"s":"W/Z","x":113.2,"y":0.28},{"s":"W/Z","x":113.6,"y":0.35},{"s":"W/Z","x":114.0,"y":0.2},{"s":"W/Z","x":114.4,"y":0.3},{"s":"W/Z","x":114.8,"y":0.42},{"s":"W/Z","x":115.2,"y":0.5},{"s":"W/Z","x":115.6,"y":0.6},{"s":"W/Z","x":116.0,"y":0.55},{"s":"W/Z","x":116.4,"y":0.45},{"s":"W/Z","x":116.8,"y":0.35},{"s":"W/Z","x":117.2,"y":0.25},{"s":"W/Z","x":117.6,"y":0.15},{"s":"W/Z","x":118.0,"y":0.3},{"s":"W/Z","x":118.4,"y":0.2},{"s":"W/Z","x":118.8,"y":0.4},{"s":"W/Z","x":119.0,"y":-0.03},{"s":"W/Z","x":119.1,"y":-0.18},{"s":"W/Z","x":119.2,"y":0.5},{"s":"W/Z","x":119.6,"y":0.58},{"s":"W/Z","x":120.0,"y":0.65},{"s":"W/Z","x":120.4,"y":0.7},{"s":"W/Z","x":120.8,"y":0.62},{"s":"W/Z","x":121.2,"y":0.5},{"s":"W/Z","x":121.6,"y":0.4},{"s":"W/Z","x":122.0,"y":0.3},{"s":"W/Z","x":122.4,"y":0.22},{"s":"W/Z","x":122.8,"y":0.35},{"s":"W/Z","x":123.2,"y":0.15},{"s":"W/Z","x":123.6,"y":0.28},{"s":"W/Z","x":124.0,"y":0.4},{"s":"W/Z","x":124.4,"y":0.2},{"s":"W/Z","x":124.8,"y":0.32},{"s":"W/Z","x":125.2,"y":0.1},{"s":"W/Z","x":125.6,"y":0.25},{"s":"W/Z","x":126.0,"y":0.38},{"s":"W/Z","x":126.4,"y":0.18},{"s":"W/Z","x":126.8,"y":0.3},{"s":"W/Z","x":127.2,"y":0.42},{"s":"W/Z","x":127.6,"y":0.22},{"s":"W/Z","x":128.0,"y":0.35},{"s":"W/Z","x":128.4,"y":0.28},{"s":"W/Z","x":128.8,"y":0.45},{"s":"W/Z","x":129.2,"y":0.3},{"s":"W/Z","x":129.6,"y":0.4},{"s":"W/Z","x":130.0,"y":0.5},{"s":"W/Z","x":130.4,"y":0.55},{"s":"W/Z","x":130.8,"y":0.42},{"s":"W/Z","x":131.2,"y":0.3},{"s":"W/Z","x":131.6,"y":0.38},{"s":"W/Z","x":132.0,"y":0.25},{"s":"W/Z","x":132.4,"y":0.35},{"s":"W/Z","x":132.8,"y":0.2},{"s":"W/Z","x":133.2,"y":0.3},{"s":"W/Z","x":133.6,"y":0.42},{"s":"W/Z","x":134.0,"y":0.28},{"s":"W/Z","x":134.4,"y":0.35},{"s":"W/Z","x":134.8,"y":0.45},{"s":"W/Z","x":135.2,"y":0.38},{"s":"W/Z","x":135.6,"y":0.5},{"s":"W/Z","x":136.0,"y":0.55},{"s":"W/Z","x":136.4,"y":0.6},{"s":"W/Z","x":136.8,"y":0.62},{"s":"W/Z","x":137.2,"y":0.55},{"s":"W/Z","x":137.6,"y":0.6},{"s":"W/Z","x":138.0,"y":0.45},{"s":"W/Z","x":138.4,"y":0.35},{"s":"W/Z","x":138.8,"y":0.28},{"s":"W/Z","x":139.2,"y":0.2},{"s":"W/Z","x":139.6,"y":0.32},{"s":"W/Z","x":140.0,"y":0.25},{"s":"W/Z","x":140.4,"y":0.38},{"s":"W/Z","x":140.8,"y":0.3},{"s":"W/Z","x":141.2,"y":0.45},{"s":"W/Z","x":141.6,"y":0.5},{"s":"W/Z","x":142.0,"y":0.42},{"s":"W/Z","x":142.4,"y":0.48},{"s":"W/Z","x":142.8,"y":0.35},{"s":"W/Z","x":143.2,"y":0.42},{"s":"W/Z","x":143.6,"y":0.3},{"s":"W/Z","x":144.0,"y":0.38},{"s":"W/Z","x":144.4,"y":0.25},{"s":"W/Z","x":144.8,"y":0.32},{"s":"W/Z","x":145.2,"y":0.2},{"s":"W/Z","x":145.6,"y":0.3},{"s":"W/Z","x":146.0,"y":0.38},{"s":"W/Z","x":146.4,"y":0.25},{"s":"W/Z","x":146.8,"y":0.32},{"s":"W/Z","x":147.2,"y":0.4},{"s":"W/Z","x":147.6,"y":0.28},{"s":"W/Z","x":148.0,"y":0.35},{"s":"W/Z","x":148.4,"y":0.22},{"s":"W/Z","x":148.8,"y":0.3},{"s":"W/Z","x":149.2,"y":0.38},{"s":"W/Z","x":149.6,"y":0.25},{"s":"W/Z","x":150.0,"y":0.32},{"s":"W/Z","x":150.4,"y":0.38},{"s":"W/Z","x":150.8,"y":0.3},{"s":"W/Z","x":151.2,"y":0.35},{"s":"W/Z","x":151.6,"y":0.28},{"s":"W/Z","x":152.0,"y":0.36},{"s":"W/Z","x":152.4,"y":0.3},{"s":"W/Z","x":152.8,"y":0.35},{"s":"W/Z","x":153.2,"y":0.32},
{"s":"W/Z","x":103,"y":0.3},{"s":"W/Z","x":105,"y":0.22},{"s":"W/Z","x":107,"y":0.18},{"s":"W/Z","x":109,"y":0.35},{"s":"W/Z","x":111,"y":0.15},{"s":"W/Z","x":113,"y":0.22},{"s":"W/Z","x":117,"y":0.45},{"s":"W/Z","x":121,"y":0.25},{"s":"W/Z","x":123,"y":0.45},{"s":"W/Z","x":125,"y":0.3},{"s":"W/Z","x":127,"y":0.25},{"s":"W/Z","x":129,"y":0.22},{"s":"W/Z","x":131,"y":0.48},{"s":"W/Z","x":133,"y":0.38},{"s":"W/Z","x":135,"y":0.3},{"s":"W/Z","x":137,"y":0.42},{"s":"W/Z","x":139,"y":0.4},{"s":"W/Z","x":141,"y":0.35},{"s":"W/Z","x":143,"y":0.48},{"s":"W/Z","x":145,"y":0.38},{"s":"W/Z","x":147,"y":0.22},{"s":"W/Z","x":149,"y":0.3},{"s":"W/Z","x":151,"y":0.25},
{"s":"W/Z","x":153.6,"y":0.25},{"s":"W/Z","x":154.0,"y":0.2},{"s":"W/Z","x":154.4,"y":0.15},{"s":"W/Z","x":154.8,"y":0.12},{"s":"W/Z","x":155.2,"y":0.16},{"s":"W/Z","x":155.6,"y":0.1},{"s":"W/Z","x":156.0,"y":0.12},{"s":"W/Z","x":156.4,"y":0.08},{"s":"W/Z","x":156.8,"y":0.1},{"s":"W/Z","x":157.2,"y":0.06},{"s":"W/Z","x":157.6,"y":0.09},{"s":"W/Z","x":158.0,"y":0.05},{"s":"W/Z","x":158.4,"y":0.08},{"s":"W/Z","x":158.8,"y":0.06},{"s":"W/Z","x":159.2,"y":0.1},{"s":"W/Z","x":159.6,"y":0.05},{"s":"W/Z","x":160.0,"y":0.07},{"s":"W/Z","x":160.4,"y":0.04},{"s":"W/Z","x":160.8,"y":0.06},{"s":"W/Z","x":161.2,"y":0.03},{"s":"W/Z","x":161.6,"y":0.04},{"s":"W/Z","x":162.0,"y":0.0},{"s":"W/Z","x":162.4,"y":0.02},{"s":"W/Z","x":162.8,"y":-0.02},{"s":"W/Z","x":163.2,"y":0.0},{"s":"W/Z","x":163.6,"y":-0.04},{"s":"W/Z","x":164.0,"y":-0.06},{"s":"W/Z","x":164.4,"y":-0.1},{"s":"W/Z","x":164.8,"y":-0.14},{"s":"W/Z","x":165.2,"y":-0.18},{"s":"W/Z","x":165.6,"y":-0.2},{"s":"W/Z","x":166.0,"y":-0.22},{"s":"W/Z","x":166.4,"y":-0.2},{"s":"W/Z","x":166.8,"y":-0.18},{"s":"W/Z","x":167.2,"y":-0.2},{"s":"W/Z","x":167.6,"y":-0.15},{"s":"W/Z","x":168.0,"y":-0.1},{"s":"W/Z","x":168.4,"y":-0.05},{"s":"W/Z","x":168.8,"y":-0.02},{"s":"W/Z","x":169.2,"y":0.02},{"s":"W/Z","x":169.6,"y":0.05},{"s":"W/Z","x":170.0,"y":0.08},{"s":"W/Z","x":170.4,"y":0.12},{"s":"W/Z","x":170.8,"y":0.18},{"s":"W/Z","x":171.2,"y":0.25},{"s":"W/Z","x":171.6,"y":0.3},{"s":"W/Z","x":172.0,"y":0.35},{"s":"W/Z","x":172.4,"y":0.38},{"s":"W/Z","x":172.8,"y":0.4},
{"s":"W/Z","x":173.8,"y":0.9},{"s":"W/Z","x":174.2,"y":0.82},{"s":"W/Z","x":174.6,"y":0.78},{"s":"W/Z","x":175.0,"y":0.76},{"s":"W/Z","x":175.4,"y":0.78},{"s":"W/Z","x":175.8,"y":0.8},{"s":"W/Z","x":176.2,"y":0.85},{"s":"W/Z","x":176.6,"y":0.9},{"s":"W/Z","x":177.0,"y":0.88},
{"s":"W/Z","x":177.4,"y":1.1},{"s":"W/Z","x":177.8,"y":1.15},{"s":"W/Z","x":178.2,"y":1.17},{"s":"W/Z","x":178.6,"y":1.12},{"s":"W/Z","x":179.0,"y":1.15},{"s":"W/Z","x":179.4,"y":1.1},{"s":"W/Z","x":179.8,"y":1.13},{"s":"W/Z","x":180.2,"y":1.15},{"s":"W/Z","x":180.6,"y":1.1},{"s":"W/Z","x":181.0,"y":1.12},{"s":"W/Z","x":181.4,"y":1.08},
{"s":"W/Z","x":181.8,"y":1.02},{"s":"W/Z","x":182.2,"y":0.98},{"s":"W/Z","x":182.5,"y":0.92},{"s":"W/Z","x":182.8,"y":0.88}
],
"arrows": [
{"s":"Y/X","x":30.0,"tip":-0.18,"base":-0.52},
{"s":"W/Z","x":33.3,"tip":-0.18,"base":-0.52},
{"s":"Y/X","x":110.9,"tip":-0.17,"base":-0.47},
{"s":"Y/X","x":161.6,"tip":0.25,"base":-0.5},
{"s":"W/Z","x":178.4,"tip":0.245,"base":-0.31}
],
"genes": [
{"label":"NELFE","x":31.5,"y":-0.70},
{"label":"ZBED1-like","x":109.8,"y":-0.745},
{"label":"HSD17b8","x":161.3,"y":-0.745},
{"label":"Dach2","x":179.7,"y":-0.46}
]
},
"layer": [
{
"mark": {"type": "rect", "filled": false, "stroke": "black", "strokeWidth": 1.5, "clip": false},
"encoding": {
"x": {"datum": -40.8, "type": "quantitative", "axis": null},
"x2": {"datum": 265.9},
"y": {"datum": 2.981, "type": "quantitative", "axis": null},
"y2": {"datum": -5.3}
}
},
{
"mark": {"type": "rule", "stroke": "black", "strokeWidth": 1.5},
"encoding": {"y": {"datum": 0, "type": "quantitative", "axis": null}}
},
{
"data": {"name": "pts"},
"mark": {"type": "circle", "size": 44, "opacity": 1},
"encoding": {
"x": {"field": "x", "type": "quantitative",
"scale": {"domain": [0, 200], "nice": false, "zero": false},
"axis": {"values": [0,20,40,60,80,100,120,140,160,180,200], "title": null, "grid": true, "gridColor": "#d9d9d9", "gridWidth": 1.5, "ticks": false, "domain": false, "labelFont": "Liberation Sans Narrow, Liberation Sans", "labelFontSize": 12.5, "labelPadding": 11, "labelColor": "black", "labelFlush": false, "zindex": 0}},
"y": {"field": "y", "type": "quantitative",
"scale": {"domain": [-1, 2.5], "nice": false, "zero": false},
"axis": {"values": [-1,0,1,2], "title": "Expression ratio (log2FC)", "titleFont": "Liberation Sans", "titleFontSize": 24, "titleFontWeight": "normal", "titleColor": "black", "titlePadding": 12, "grid": true, "gridColor": "#d9d9d9", "gridWidth": 1.5, "ticks": false, "domain": false, "labelFont": "Liberation Sans Narrow, Liberation Sans", "labelFontSize": 12.5, "labelPadding": 10, "labelColor": "black", "labelFlush": false, "labelExpr": "replace(datum.label, '\u2212', '-')", "zindex": 0}},
"color": {"field": "s", "type": "nominal",
"scale": {"domain": ["Y/X", "W/Z"], "range": ["#2040ff", "#ff0000"]},
"legend": {"orient": "none", "legendX": 486, "legendY": 159, "title": null, "padding": 0, "symbolType": "circle", "symbolSize": 230, "symbolOpacity": 1, "symbolStrokeWidth": 0, "labelFont": "Lato", "labelFontWeight": "bold", "labelFontSize": 31, "labelOffset": 9, "rowPadding": 9, "labelColor": {"expr": "datum.label === 'Y/X' ? '#2040ff' : '#ff0000'"}}}
}
},
{
"mark": {"type": "rect", "filled": false, "stroke": "#FFC000", "strokeWidth": 2.2},
"encoding": {
"x": {"datum": 152.1, "type": "quantitative", "axis": null},
"x2": {"datum": 183.95},
"y": {"datum": 2.151, "type": "quantitative", "axis": null},
"y2": {"datum": -0.61}
}
},
{
"data": {"name": "arrows"},
"mark": {"type": "rule", "strokeWidth": 2},
"encoding": {
"x": {"field": "x", "type": "quantitative", "axis": null},
"y": {"field": "tip", "type": "quantitative", "axis": null},
"y2": {"field": "base"},
"color": {"field": "s", "type": "nominal", "legend": null}
}
},
{
"data": {"name": "arrows"},
"mark": {"type": "point", "shape": "M0,0L0.8,2L-0.8,2Z", "filled": true, "size": 144, "opacity": 1, "strokeWidth": 0},
"encoding": {
"x": {"field": "x", "type": "quantitative", "axis": null},
"y": {"field": "tip", "type": "quantitative", "axis": null},
"color": {"field": "s", "type": "nominal", "legend": null}
}
},
{
"data": {"name": "genes"},
"mark": {"type": "text", "font": "Lato", "fontWeight": "bold", "fontStyle": "italic", "fontSize": 20, "align": "center", "baseline": "middle", "color": "black"},
"encoding": {
"x": {"field": "x", "type": "quantitative", "axis": null},
"y": {"field": "y", "type": "quantitative", "axis": null},
"text": {"field": "label"}
}
},
{
"mark": {"type": "text", "font": "Lato", "fontSize": 24, "align": "right", "baseline": "middle", "color": "black"},
"encoding": {
"x": {"datum": 194.5, "type": "quantitative", "axis": null},
"y": {"datum": 2.297, "type": "quantitative", "axis": null},
"text": {"value": "20 genes/cluster"}
}
},
{
"mark": {"type": "text", "font": "Lato", "fontSize": 19, "align": "left", "baseline": "middle", "color": "black"},
"encoding": {
"x": {"datum": 210.3, "type": "quantitative", "axis": null},
"y": {"datum": -1.239, "type": "quantitative", "axis": null},
"text": {"value": "(Mb)"}
}
},
{
"mark": {"type": "text", "font": "Liberation Sans", "fontSize": 24, "align": "right", "baseline": "alphabetic", "color": "black"},
"encoding": {
"x": {"datum": 100.6, "type": "quantitative", "axis": null},
"y": {"datum": -1.703, "type": "quantitative", "axis": null},
"text": {"value": "Chromosome 9 of"}
}
},
{
"mark": {"type": "text", "font": "Liberation Sans", "fontSize": 24, "fontStyle": "italic", "align": "left", "baseline": "alphabetic", "color": "black"},
"encoding": {
"x": {"datum": 103.6, "type": "quantitative", "axis": null},
"y": {"datum": -1.703, "type": "quantitative", "axis": null},
"text": {"value": "Rana temporaria"}
}
},
{
"mark": {"type": "text", "font": "Noto Sans CJK JP", "fontSize": 31, "fontWeight": "bold", "align": "left", "baseline": "middle", "color": "#111"},
"encoding": {
"x": {"datum": -32.6, "type": "quantitative", "axis": null},
"y": {"datum": -2.439, "type": "quantitative", "axis": null},
"text": {"value": "図３　性連鎖遺伝子の発現差"}
}
},
{
"mark": {"type": "text", "font": "Noto Sans CJK JP", "fontSize": 25.8, "fontWeight": 300, "lineHeight": 41.3, "align": "left", "baseline": "top", "color": "#222"},
"encoding": {
"x": {"datum": -32.6, "type": "quantitative", "axis": null},
"y": {"datum": -2.818, "type": "quantitative", "axis": null},
"text": {"value": ["青丸、遺伝子発現の比率 Y/X。赤丸、遺伝子発現の比率", "W/X。黄色い四角は XY 染色体と ZW 染色体間で発現差が", "大きく異なる領域を示す。矢印は性決定候補遺伝子の名前", "とそのゲノム上の位置を示す。"]}
}
}
]
}
